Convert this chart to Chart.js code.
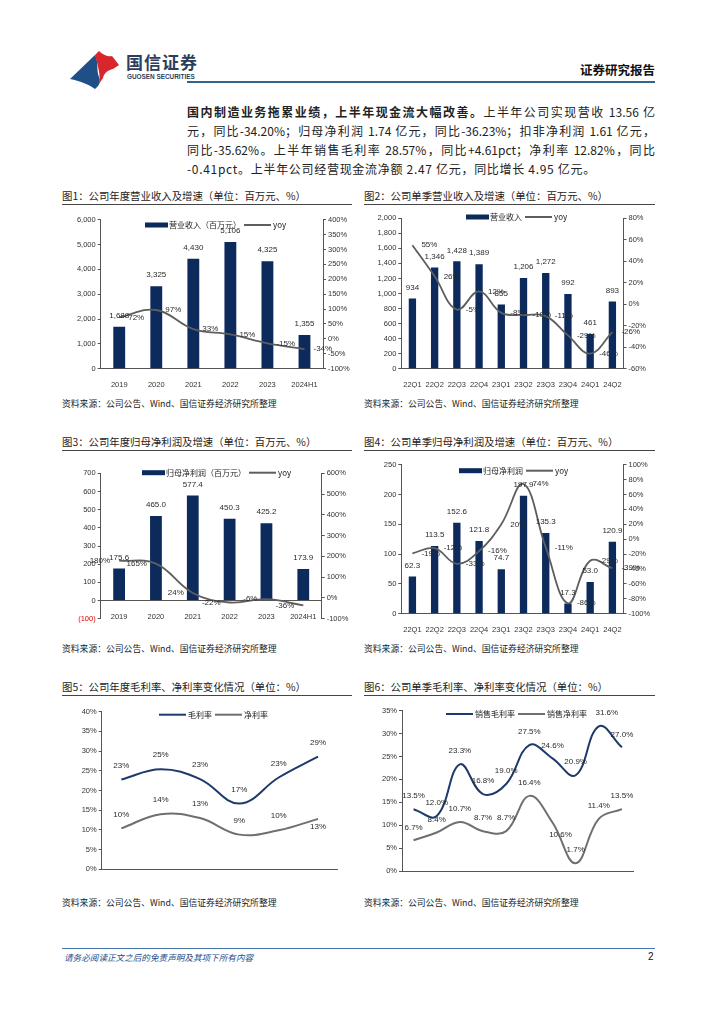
<!DOCTYPE html>
<html><head><meta charset="utf-8">
<script src="https://cdn.jsdelivr.net/npm/chart.js@4.4.0/dist/chart.umd.min.js"></script>
<style>
body{margin:0;background:#fff;}
#page{position:relative;width:724px;height:1024px;overflow:hidden;font-family:"Noto Sans CJK SC","Noto Sans",sans-serif;color:#222;background:#fff;}
.para{position:absolute;left:187px;width:468px;font-size:12px;line-height:19px;text-align:justify;text-align-last:justify;}
.title{position:absolute;font-size:10.4px;line-height:14px;white-space:nowrap;color:#222;}
.rule{position:absolute;height:1px;background:#444;}
.src{position:absolute;font-size:8.8px;line-height:12px;white-space:nowrap;color:#222;}
canvas{position:absolute;}
</style></head>
<body><div id="page">
<svg style="position:absolute;left:0;top:0" width="200" height="100">
  <path d="M70,79 L95,55 C99,63 96,70 99,77 C101,82 99,86 95,89 C88,84 80,81 70,79 Z" fill="#1f4f86"/>
  <path d="M95,55 L99,51 C103,55 108,57 112,56 L119,65 L113,69 C108,70 104,73 103,78 L99,84 C101,76 98,66 95,55 Z" fill="#d9262c"/>
</svg>
<div style="position:absolute;left:126px;top:52px;font-size:17px;line-height:20px;font-weight:bold;color:#2c3e5c;letter-spacing:1px;">国信证券</div>
<div style="position:absolute;left:127px;top:73px;font-size:6.4px;line-height:8px;font-weight:bold;color:#2c3e5c;font-family:'Liberation Sans',Arial,sans-serif;">GUOSEN SECURITIES</div>
<div style="position:absolute;right:69px;top:61px;font-size:12.5px;line-height:18px;font-weight:bold;color:#111;">证券研究报告</div>
<div style="position:absolute;left:187px;top:81px;width:468px;height:2px;background:#35638f;"></div>

<div class="para" style="top:102px;"><b>国内制造业务拖累业绩，上半年现金流大幅改善。</b>上半年公司实现营收 13.56 亿</div>
<div class="para" style="top:121px;">元，同比-34.20%；归母净利润 1.74 亿元，同比-36.23%；扣非净利润 1.61 亿元，</div>
<div class="para" style="top:140px;">同比-35.62%。上半年销售毛利率 28.57%，同比+4.61pct；净利率 12.82%，同比</div>
<div class="para" style="top:159px;text-align-last:left;letter-spacing:0.7px;">-0.41pct。上半年公司经营现金流净额 2.47 亿元，同比增长 4.95 亿元。</div>

<div class="title" style="left:62px;top:189px;">图1：公司年度营业收入及增速（单位：百万元、%）</div>
<div class="rule" style="left:62px;top:204px;width:290px;"></div>
<div class="title" style="left:364px;top:189px;">图2：公司单季营业收入及增速（单位：百万元、%）</div>
<div class="rule" style="left:364px;top:204px;width:291px;"></div>
<div class="src" style="left:62px;top:398px;">资料来源：公司公告、Wind、国信证券经济研究所整理</div>
<div class="src" style="left:364px;top:398px;">资料来源：公司公告、Wind、国信证券经济研究所整理</div>

<div class="title" style="left:62px;top:435px;">图3：公司年度归母净利润及增速（单位：百万元、%）</div>
<div class="rule" style="left:62px;top:450px;width:290px;"></div>
<div class="title" style="left:364px;top:435px;">图4：公司单季归母净利润及增速（单位：百万元、%）</div>
<div class="rule" style="left:364px;top:450px;width:291px;"></div>
<div class="src" style="left:62px;top:643px;">资料来源：公司公告、Wind、国信证券经济研究所整理</div>
<div class="src" style="left:364px;top:643px;">资料来源：公司公告、Wind、国信证券经济研究所整理</div>

<div class="title" style="left:62px;top:680px;">图5：公司年度毛利率、净利率变化情况（单位：%）</div>
<div class="rule" style="left:62px;top:695px;width:290px;"></div>
<div class="title" style="left:364px;top:680px;">图6：公司单季毛利率、净利率变化情况（单位：%）</div>
<div class="rule" style="left:364px;top:695px;width:291px;"></div>
<div class="src" style="left:62px;top:897px;">资料来源：公司公告、Wind、国信证券经济研究所整理</div>
<div class="src" style="left:364px;top:897px;">资料来源：公司公告、Wind、国信证券经济研究所整理</div>

<div style="position:absolute;left:62px;top:948px;width:593px;height:1px;background:#4a78ad;"></div>
<div style="position:absolute;left:64px;top:951px;font-size:8.6px;line-height:12px;font-style:italic;color:#1f4e8c;">请务必阅读正文之后的免责声明及其项下所有内容</div>
<div style="position:absolute;left:648px;top:950px;font-size:10px;line-height:13px;color:#111;font-family:'Liberation Sans',Arial,sans-serif;">2</div>
</div>
<script>
// ---------- data ----------
const annualCats = ['2019','2020','2021','2022','2023','2024H1'];
const quarterCats = ['22Q1','22Q2','22Q3','22Q4','23Q1','23Q2','23Q3','23Q4','24Q1','24Q2'];

const annualRevenue = [1688, 3325, 4430, 5106, 4325, 1355];
const annualRevenueYoy = [72, 97, 33, 15, -15, -34];

const quarterRevenue = [934, 1346, 1428, 1389, 855, 1206, 1272, 992, 461, 893];
const quarterRevenueYoy = [55, 26, -5, 12, -8, -10, -11, -29, -46, -26];

const annualProfit = [175.6, 465.0, 577.4, 450.3, 425.2, 173.9];
const annualProfitYoy = [180, 165, 24, -22, -6, -36];

const quarterProfit = [62.3, 113.5, 152.6, 121.8, 74.7, 197.9, 135.3, 17.3, 53.0, 120.9];
const quarterProfitYoy = [-19, -12, -33, -16, 20, 74, -11, -86, -29, -39];

const annualGrossMargin = [22.8, 25.4, 22.9, 16.7, 23.3, 28.6];
const annualNetMargin = [10.4, 14.0, 13.0, 8.8, 9.9, 12.8];

const quarterGrossMargin = [13.5, 12.0, 23.3, 16.8, 19.0, 27.5, 24.6, 20.9, 31.6, 27.0];
const quarterNetMargin = [6.7, 8.4, 10.7, 8.7, 8.7, 16.4, 10.6, 1.7, 11.4, 13.5];

// ---------- styles ----------
const BAR = '#0c2b5c';
const GREY = '#5e5e5e';
const NAVY_LINE = '#1d3a6b';
const NET_LINE = '#6f6f6f';
const NUMF = '"Liberation Sans", Arial, sans-serif';
const CJKF = '"Noto Sans CJK SC", "Noto Sans", sans-serif';
const TICK = {family: NUMF, size: 7.5};

function fmtThousand(v){ return Math.round(v).toLocaleString('en-US'); }

function labelPlugin(specs){
  return {id:'dl', afterDatasetsDraw(chart){
    const ctx = chart.ctx; ctx.save();
    specs.forEach(s=>{
      const meta = chart.getDatasetMeta(s.ds);
      const data = chart.data.datasets[s.ds].data;
      ctx.font = (s.size||8) + 'px ' + NUMF;
      ctx.fillStyle = s.color || '#2a2a2a';
      ctx.textBaseline = 'middle';
      meta.data.forEach((el,j)=>{
        const t = s.fmt(data[j]);
        let x = el.x, y = el.y;
        const o = (s.over && s.over[j]) || {};
        const pos = o.pos || s.pos;
        const off = o.off !== undefined ? o.off : s.off;
        if(pos==='top'){ ctx.textAlign='center'; y -= off; }
        else if(pos==='below'){ ctx.textAlign='center'; y += off; }
        else if(pos==='right'){ ctx.textAlign='left'; x += off; }
        else { ctx.textAlign='right'; x -= off; }
        ctx.fillText(t, x + (o.dx||0), y + (o.dy||0));
      });
    });
    ctx.restore();
  }};
}

function legendPlugin(items, lx, ly){
  return {id:'lg', afterDraw(chart){
    const ctx = chart.ctx; ctx.save();
    ctx.font = '8px ' + CJKF;
    ctx.textBaseline = 'middle'; ctx.textAlign='left';
    let x = lx;
    items.forEach(it=>{
      if(it.type==='box'){
        ctx.fillStyle = it.color; ctx.fillRect(x, ly-2.5, 23, 5); x += 24;
      } else {
        ctx.strokeStyle = it.color; ctx.lineWidth = 2;
        ctx.beginPath(); ctx.moveTo(x, ly); ctx.lineTo(x+27, ly); ctx.stroke(); x += 29;
      }
      ctx.fillStyle = '#222';
      ctx.fillText(it.text, x, ly);
      x += ctx.measureText(it.text).width + 3;
    });
    ctx.restore();
  }};
}

function yAxis(pos, min, max, step, fmt, extra){
  return Object.assign({
    position: pos, min: min, max: max,
    ticks: {stepSize: step, callback: fmt, font: TICK, color: '#333', padding: 2, autoSkip: false},
    grid: {drawOnChartArea: false, drawTicks: true, tickLength: 3, color: '#555'},
    border: {display: true, color: '#555', width: 1}
  }, extra||{});
}

function makeChart(box, plot, cfg, plugins, opts){
  opts = opts || {};
  const page = document.getElementById('page');
  const c = document.createElement('canvas');
  c.width = box.w; c.height = box.h;
  c.style.left = box.left + 'px'; c.style.top = box.top + 'px';
  c.style.width = box.w + 'px'; c.style.height = box.h + 'px';
  page.appendChild(c);
  const sc = cfg.options.scales;
  const leftW = plot.l - box.left;
  const rightW = box.left + box.w - plot.r;
  const botH = box.top + box.h - plot.b;
  sc.y.afterFit = s => { s.width = leftW; };
  if(sc.y1) sc.y1.afterFit = s => { s.width = rightW; };
  if(!opts.xAtZero) sc.x.afterFit = s => { s.height = botH; };
  cfg.options.layout = {padding: {
    top: plot.t - box.top, left: 0,
    right: sc.y1 ? 0 : rightW,
    bottom: opts.xAtZero ? botH : 0
  }};
  cfg.options.responsive = false;
  cfg.options.animation = false;
  cfg.options.devicePixelRatio = 1;
  cfg.options.plugins = {legend: {display:false}, tooltip: {enabled:false}};
  cfg.plugins = plugins;
  return new Chart(c, cfg);
}

function xAxis(extra){
  return Object.assign({
    offset: true,
    ticks: {font: TICK, color: '#333', padding: 4, autoSkip: false, maxRotation: 0},
    grid: {display: false},
    border: {display: true, color: '#555', width: 1}
  }, extra||{});
}

// ---------- Chart 1 ----------
(function(){
  const box = {left:62, top:208, w:294, h:180};
  const plot = {l:100.7, t:219.7, r:323, b:368.7};
  makeChart(box, plot, {
    type:'bar',
    data:{labels: annualCats, datasets:[
      {type:'bar', data: annualRevenue, backgroundColor: BAR, yAxisID:'y', barPercentage:0.32, categoryPercentage:1, order:2},
      {type:'line', data: annualRevenueYoy, borderColor: GREY, borderWidth:1.8, pointRadius:0, tension:0.4, yAxisID:'y1', order:1}
    ]},
    options:{scales:{
      x: xAxis(),
      y: yAxis('left', 0, 6000, 1000, fmtThousand),
      y1: yAxis('right', -100, 400, 50, v=>v+'%')
    }}
  }, [
    labelPlugin([
      {ds:0, pos:'top', off:11, fmt: fmtThousand},
      {ds:1, pos:'right', off:9, fmt: v=>v+'%'}
    ]),
    legendPlugin([{type:'box', color:BAR, text:'营业收入（百万元）'},{type:'line', color:GREY, text:'yoy'}], 145-62, 225-208)
  ]);
})();

// ---------- Chart 2 ----------
(function(){
  const box = {left:364, top:208, w:294, h:180};
  const plot = {l:401.3, t:218.3, r:623.5, b:368.7};
  makeChart(box, plot, {
    type:'bar',
    data:{labels: quarterCats, datasets:[
      {type:'bar', data: quarterRevenue, backgroundColor: BAR, yAxisID:'y', barPercentage:0.33, categoryPercentage:1, order:2},
      {type:'line', data: quarterRevenueYoy, borderColor: GREY, borderWidth:1.8, pointRadius:0, tension:0.4, yAxisID:'y1', order:1}
    ]},
    options:{scales:{
      x: xAxis(),
      y: yAxis('left', 0, 2000, 200, fmtThousand),
      y1: yAxis('right', -60, 80, 20, v=>v+'%')
    }}
  }, [
    labelPlugin([
      {ds:0, pos:'top', off:11, fmt: fmtThousand},
      {ds:1, pos:'right', off:9, fmt: v=>v+'%'}
    ]),
    legendPlugin([{type:'box', color:BAR, text:'营业收入'},{type:'line', color:GREY, text:'yoy'}], 466-364, 217-208)
  ]);
})();

// ---------- Chart 3 ----------
(function(){
  const box = {left:62, top:455, w:294, h:180};
  const plot = {l:100.7, t:473.3, r:321.7, b:618.7};
  makeChart(box, plot, {
    type:'bar',
    data:{labels: annualCats, datasets:[
      {type:'bar', data: annualProfit, backgroundColor: BAR, yAxisID:'y', barPercentage:0.32, categoryPercentage:1, order:2},
      {type:'line', data: annualProfitYoy, borderColor: GREY, borderWidth:1.8, pointRadius:0, tension:0.4, yAxisID:'y1', order:1}
    ]},
    options:{scales:{
      x: xAxis({position: {y: 0}}),
      y: yAxis('left', -100, 700, 100, v=> v<0 ? '('+Math.abs(v)+')' : String(v), {
        ticks:{stepSize:100, callback: v=> v<0 ? '('+Math.abs(v)+')' : String(v), font: TICK, padding:2, autoSkip:false,
          color: c => (c.tick && c.tick.value < 0) ? '#e00000' : '#333'}
      }),
      y1: yAxis('right', -100, 600, 100, v=>v+'%')
    }}
  }, [
    labelPlugin([
      {ds:0, pos:'top', off:11, fmt: v=>v.toFixed(1)},
      {ds:1, pos:'left', off:9, fmt: v=>v+'%'}
    ]),
    legendPlugin([{type:'box', color:BAR, text:'归母净利润（百万元）'},{type:'line', color:GREY, text:'yoy'}], 142-62, 472.7-455)
  ], {xAtZero:true});
})();

// ---------- Chart 4 ----------
(function(){
  const box = {left:364, top:455, w:294, h:180};
  const plot = {l:401.3, t:464.7, r:623.5, b:613.7};
  makeChart(box, plot, {
    type:'bar',
    data:{labels: quarterCats, datasets:[
      {type:'bar', data: quarterProfit, backgroundColor: BAR, yAxisID:'y', barPercentage:0.33, categoryPercentage:1, order:2},
      {type:'line', data: quarterProfitYoy, borderColor: GREY, borderWidth:1.8, pointRadius:0, tension:0.4, yAxisID:'y1', order:1}
    ]},
    options:{scales:{
      x: xAxis(),
      y: yAxis('left', 0, 250, 50, v=>String(v)),
      y1: yAxis('right', -100, 100, 20, v=>v+'%')
    }}
  }, [
    labelPlugin([
      {ds:0, pos:'top', off:11, fmt: v=>v.toFixed(1)},
      {ds:1, pos:'right', off:9, fmt: v=>v+'%'}
    ]),
    legendPlugin([{type:'box', color:BAR, text:'归母净利润'},{type:'line', color:GREY, text:'yoy'}], 459-364, 470.7-455)
  ]);
})();

// ---------- Chart 5 ----------
(function(){
  const box = {left:62, top:700, w:294, h:181};
  const plot = {l:101.7, t:711.7, r:337.7, b:869.3};
  makeChart(box, plot, {
    type:'line',
    data:{labels: annualCats, datasets:[
      {data: annualGrossMargin, borderColor: NAVY_LINE, borderWidth:2, pointRadius:0, tension:0.4},
      {data: annualNetMargin, borderColor: NET_LINE, borderWidth:2, pointRadius:0, tension:0.4}
    ]},
    options:{scales:{
      x: xAxis(),
      y: yAxis('left', 0, 40, 5, v=>v+'%')
    }}
  }, [
    labelPlugin([
      {ds:0, pos:'top', off:14, fmt: v=>Math.round(v)+'%'},
      {ds:1, pos:'top', off:14, fmt: v=>Math.round(v)+'%', over:{5:{pos:'below', off:8}}}
    ]),
    legendPlugin([{type:'line', color:NAVY_LINE, text:'毛利率'},{type:'line', color:NET_LINE, text:'净利率'}], 159-62, 714.7-700)
  ]);
})();

// ---------- Chart 6 ----------
(function(){
  const box = {left:364, top:700, w:294, h:181};
  const plot = {l:402, t:710.7, r:633.5, b:871};
  makeChart(box, plot, {
    type:'line',
    data:{labels: quarterCats, datasets:[
      {data: quarterGrossMargin, borderColor: NAVY_LINE, borderWidth:2, pointRadius:0, tension:0.4},
      {data: quarterNetMargin, borderColor: NET_LINE, borderWidth:2, pointRadius:0, tension:0.4}
    ]},
    options:{scales:{
      x: xAxis(),
      y: yAxis('left', 0, 35, 5, v=>v+'%')
    }}
  }, [
    labelPlugin([
      {ds:0, pos:'top', off:13, fmt: v=>v.toFixed(1)+'%', over:{8:{dx:8}}},
      {ds:1, pos:'top', off:13, fmt: v=>v.toFixed(1)+'%', over:{6:{pos:'below', off:12, dx:8}}}
    ]),
    legendPlugin([{type:'line', color:NAVY_LINE, text:'销售毛利率'},{type:'line', color:NET_LINE, text:'销售净利率'}], 446-364, 714-700)
  ]);
})();
</script>
</body></html>
